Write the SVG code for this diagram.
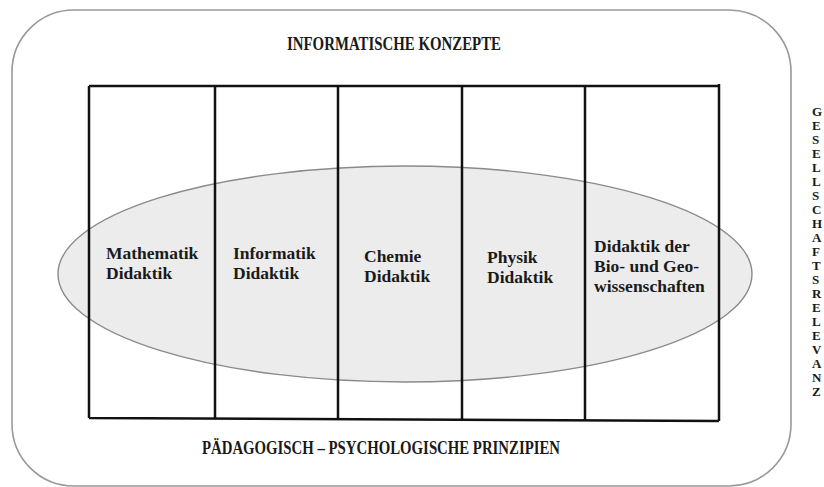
<svg xmlns="http://www.w3.org/2000/svg" width="824" height="487" viewBox="0 0 824 487">
<style>
.frame{fill:#fff;stroke:#999;stroke-width:1.6}
.ell{fill:#ececec;stroke:#8a8a8a;stroke-width:1.4}
.grid{fill:none;stroke:#111;stroke-width:2.5}
.hd{font-family:"Liberation Serif","Times New Roman",serif;font-weight:bold;font-size:18px;fill:#1a1a1a}
.lb{font-family:"Liberation Serif","Times New Roman",serif;font-weight:bold;font-size:17.5px;fill:#1a1a1a}
.vt{font-family:"Liberation Serif","Times New Roman",serif;font-weight:bold;font-size:13px;fill:#1a1a1a}
</style>
<rect width="824" height="487" fill="#fff"/>
<g id="frame">
<rect class="frame" x="12" y="10" width="779" height="476" rx="62" ry="62"/>
<text class="hd" x="287" y="50" textLength="214" lengthAdjust="spacingAndGlyphs">INFORMATISCHE KONZEPTE</text>
<text class="hd" x="202" y="454" textLength="358" lengthAdjust="spacingAndGlyphs">PÄDAGOGISCH – PSYCHOLOGISCHE PRINZIPIEN</text>
</g>
<g id="ellipse">
<ellipse class="ell" cx="405" cy="274" rx="347" ry="108"/>
</g>
<g id="connectors">
<path class="grid" d="M89,86 L719,86 M89,86 L89,418 M89,418 L719,421 M719,84 L719,421 M215,86 L215,420 M338,86 L338,420 M462,86 L462,420 M585,86 L585,420"/>
</g>
<g id="mathematik">
<text class="lb" x="106" y="259">Mathematik</text>
<text class="lb" x="106" y="279">Didaktik</text>
</g>
<g id="informatik">
<text class="lb" x="233" y="259">Informatik</text>
<text class="lb" x="233" y="279">Didaktik</text>
</g>
<g id="chemie">
<text class="lb" x="364" y="262">Chemie</text>
<text class="lb" x="364" y="282">Didaktik</text>
</g>
<g id="physik">
<text class="lb" x="487" y="263">Physik</text>
<text class="lb" x="487" y="283">Didaktik</text>
</g>
<g id="biogeo">
<text class="lb" x="594" y="252">Didaktik der</text>
<text class="lb" x="594" y="272">Bio- und Geo-</text>
<text class="lb" x="594" y="292">wissenschaften</text>
</g>
<g id="gesellschaftsrelevanz">
<text class="vt" x="812" y="116">G</text>
<text class="vt" x="812" y="130">E</text>
<text class="vt" x="812" y="144">S</text>
<text class="vt" x="812" y="158">E</text>
<text class="vt" x="812" y="172">L</text>
<text class="vt" x="812" y="186">L</text>
<text class="vt" x="812" y="200">S</text>
<text class="vt" x="812" y="214">C</text>
<text class="vt" x="812" y="228">H</text>
<text class="vt" x="812" y="242">A</text>
<text class="vt" x="812" y="256">F</text>
<text class="vt" x="812" y="270">T</text>
<text class="vt" x="812" y="284">S</text>
<text class="vt" x="812" y="298">R</text>
<text class="vt" x="812" y="312">E</text>
<text class="vt" x="812" y="326">L</text>
<text class="vt" x="812" y="340">E</text>
<text class="vt" x="812" y="354">V</text>
<text class="vt" x="812" y="368">A</text>
<text class="vt" x="812" y="382">N</text>
<text class="vt" x="812" y="396">Z</text>
</g>
</svg>
